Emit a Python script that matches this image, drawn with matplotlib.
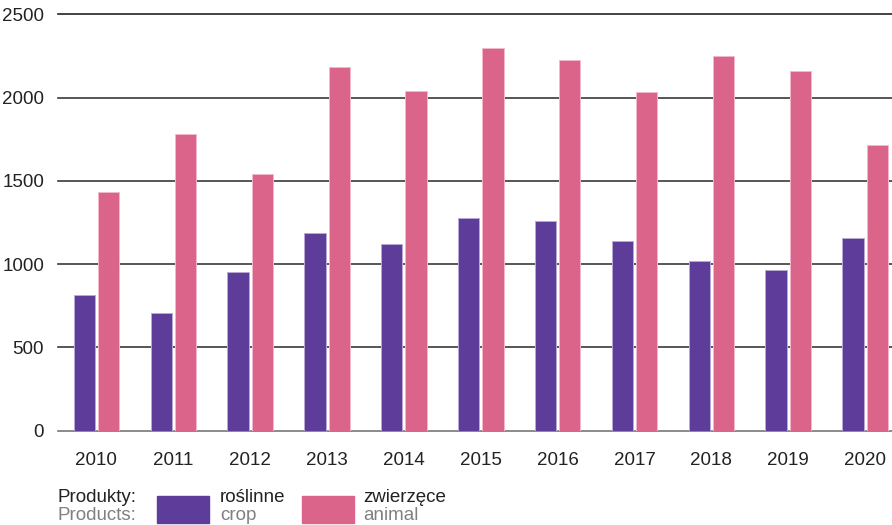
import numpy as np
import matplotlib.pyplot as plt
from matplotlib.patches import Rectangle

plt.rcParams['font.family'] = ['Liberation Sans', 'DejaVu Sans']

years = ['2010', '2011', '2012', '2013', '2014', '2015',
         '2016', '2017', '2018', '2019', '2020']
crop = [815, 707, 953, 1187, 1123, 1279, 1259, 1139, 1021, 963, 1155]
animal = [1433, 1783, 1539, 2186, 2038, 2296, 2228, 2032, 2252, 2158, 1713]
yticks_vals = [0, 500, 1000, 1500, 2000, 2500]

c_crop = '#5e3c99'
c_animal = '#db648b'

fig = plt.figure(figsize=(8.92, 5.25), dpi=100)
ax = fig.add_axes([58 / 892, 1 - 430.7 / 525, 834 / 892, 416.4 / 525])

x = np.arange(len(years))
w = 0.277
off = 0.158

# gridlines first so bars sit on top
for v in yticks_vals:
    col = '#222222' if v == 2500 else ('#777777' if v == 0 else '#3a3a3a')
    ax.axhline(v, color=col, linewidth=1.2, zorder=1, clip_on=False)

ax.bar(x - off, crop, width=w, color=c_crop, edgecolor='#b9a9d6',
       linewidth=0.7, zorder=2)
ax.bar(x + off, animal, width=w, color=c_animal, edgecolor='#f2b9cc',
       linewidth=0.7, zorder=2)

ax.set_xlim(-0.5, 10.35)
ax.set_ylim(0, 2500)
for s in ax.spines.values():
    s.set_visible(False)

fs = 13.5
ax.set_xticks(x)
ax.set_xticklabels(years, fontsize=fs, color='#222222')
ax.set_yticks(yticks_vals)
ax.set_yticklabels([str(v) for v in yticks_vals], fontsize=fs, color='#222222')
ax.tick_params(length=0)
ax.tick_params(axis='x', pad=15)
ax.tick_params(axis='y', pad=10)

# legend
fig.text(58 / 892, 1 - 497 / 525, 'Produkty:', fontsize=fs, color='#222222', va='center')
fig.text(58 / 892, 1 - 516 / 525, 'Products:', fontsize=fs, color='#808080', va='center')

fig.add_artist(Rectangle((157 / 892, 1 - 523 / 525), 52 / 892, 27 / 525,
                         transform=fig.transFigure, color=c_crop))
fig.text(220 / 892, 1 - 497 / 525, 'roślinne', fontsize=fs, color='#222222', va='center')
fig.text(220 / 892, 1 - 516 / 525, 'crop', fontsize=fs, color='#808080', va='center')

fig.add_artist(Rectangle((302 / 892, 1 - 523 / 525), 52 / 892, 27 / 525,
                         transform=fig.transFigure, color=c_animal))
fig.text(363 / 892, 1 - 497 / 525, 'zwierzęce', fontsize=fs, color='#222222', va='center')
fig.text(363 / 892, 1 - 516 / 525, 'animal', fontsize=fs, color='#808080', va='center')

plt.savefig('out.png', dpi=100)
